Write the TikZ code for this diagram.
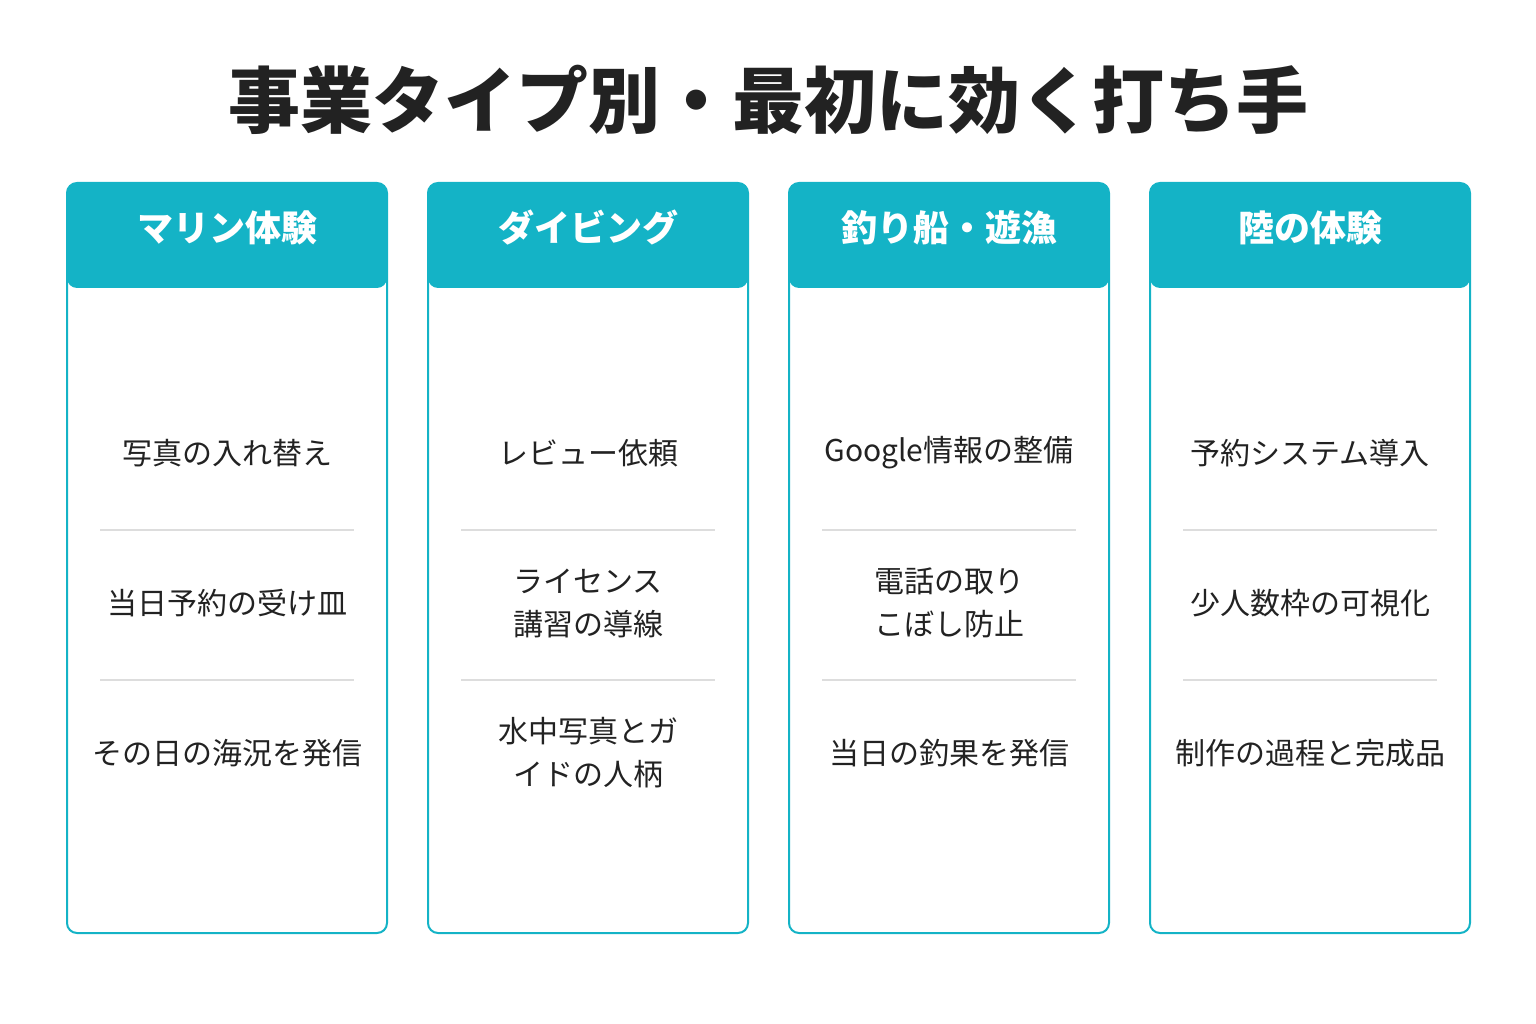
\documentclass[tikz,border=0pt]{standalone}
\usepackage{fontspec}
\setmainfont{Noto Sans CJK JP}
\definecolor{teal}{HTML}{14B3C6}
\definecolor{ink}{HTML}{222222}
\definecolor{sep}{HTML}{DDDDDD}
\begin{document}
\begin{tikzpicture}[x=1pt,y=-1pt,
  head/.style={text=white,font=\fontsize{36}{40}\selectfont\bfseries},
  item/.style={text=ink,font=\fontsize{30}{43}\selectfont,align=center},
  ttl/.style={text=ink,font=\fontsize{72}{80}\selectfont\bfseries}]
\useasboundingbox (0,0) rectangle (1536,1024);
\node[ttl] (title) at (768,100) {事業タイプ別・最初に効く打ち手};
\newcommand\mycard[6]{%
  \fill[teal,rounded corners=10] (#1,288) -- (#1,183) -- (#1+320,183) -- (#1+320,288) -- cycle;
  \draw[teal,line width=2,rounded corners=10] (#1,183) rectangle (#1+320,933);
  \node[head] (h#2) at (#1+160,228) {#3};
  \node[item] (a#2) at (#1+160,453) {#4};
  \node[item] (b#2) at (#1+160,603) {#5};
  \node[item] (c#2) at (#1+160,753) {#6};
  \draw[sep,line width=1.5] (#1+33,530) -- (#1+287,530);
  \draw[sep,line width=1.5] (#1+33,680) -- (#1+287,680);
}
\mycard{67}{1}{マリン体験}{写真の入れ替え}{当日予約の受け皿}{その日の海況を発信}
\mycard{428}{2}{ダイビング}{レビュー依頼}{ライセンス\\講習の導線}{水中写真とガ\\イドの人柄}
\mycard{789}{3}{釣り船・遊漁}{Google情報の整備}{電話の取り\\こぼし防止}{当日の釣果を発信}
\mycard{1150}{4}{陸の体験}{予約システム導入}{少人数枠の可視化}{制作の過程と完成品}
\end{tikzpicture}
\end{document}
